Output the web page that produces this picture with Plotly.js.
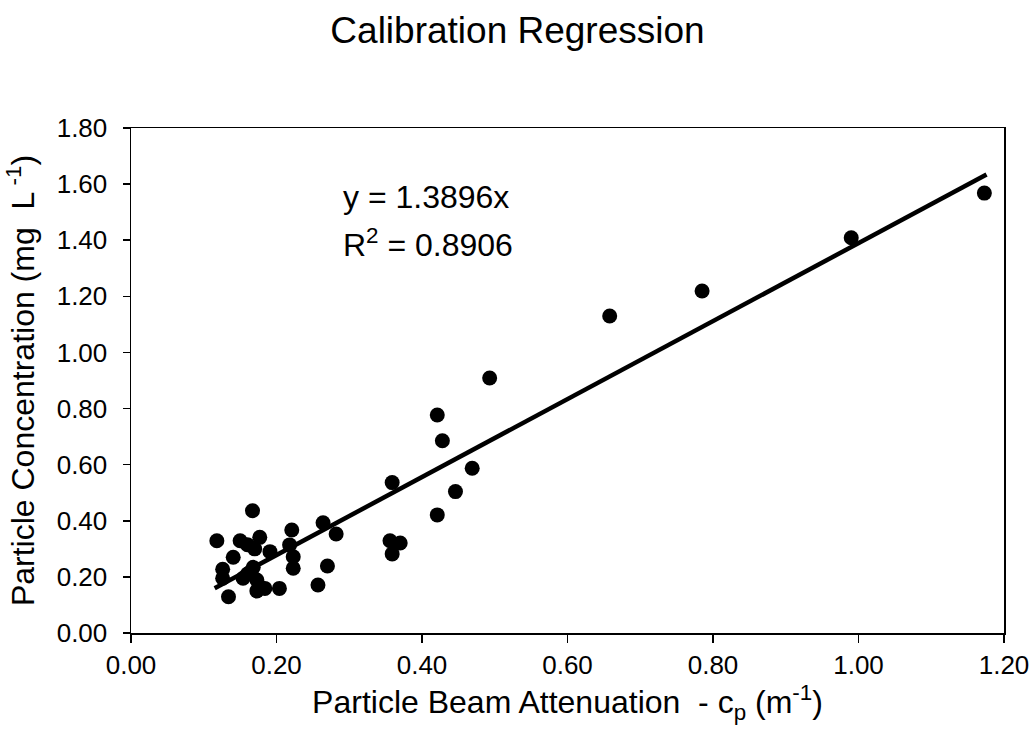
<!DOCTYPE html>
<html>
<head>
<meta charset="utf-8">
<script src="https://cdn.plot.ly/plotly-3.0.1.min.js"></script>
<style>html,body{margin:0;padding:0;background:#fff;}#chart{width:1035px;height:740px;}</style>
</head>
<body>
<div id="chart"></div>
<script>
// Observed data (particle beam attenuation c_p, particle concentration mg/L)
const attenuation = [0.118, 0.126, 0.126, 0.134, 0.1405, 0.150, 0.154, 0.160, 0.167, 0.168,
  0.170, 0.173, 0.173, 0.177, 0.177, 0.184, 0.191, 0.204, 0.218, 0.221,
  0.223, 0.223, 0.257, 0.264, 0.270, 0.282, 0.356, 0.359, 0.359, 0.370,
  0.421, 0.421, 0.428, 0.446, 0.469, 0.493, 0.658, 0.785, 0.990, 1.173,
  0.160, 0.165];
const concentration = [0.329, 0.227, 0.195, 0.129, 0.270, 0.329, 0.195, 0.210, 0.436, 0.234,
  0.300, 0.189, 0.150, 0.341, 0.165, 0.159, 0.290, 0.159, 0.314, 0.367,
  0.272, 0.231, 0.171, 0.393, 0.239, 0.353, 0.329, 0.536, 0.282, 0.321,
  0.421, 0.777, 0.685, 0.504, 0.587, 0.909, 1.130, 1.219, 1.409, 1.568,
  0.315, 0.220];
// Regression (through origin)
const slope = 1.3896;
const rSquared = 0.8906;
const fitX = [0.115, 1.176];
const fitY = fitX.map(v => slope * v);
const xTicks = [0, 0.2, 0.4, 0.6, 0.8, 1.0, 1.2];
const yTicks = [0, 0.2, 0.4, 0.6, 0.8, 1.0, 1.2, 1.4, 1.6, 1.8];

const font = 'Liberation Sans, Arial, sans-serif';

const traces = [
  {x: fitX, y: fitY, mode: 'lines', line: {color: '#000', width: 4.5}, hoverinfo: 'skip', cliponaxis: false},
  {x: attenuation, y: concentration, mode: 'markers', marker: {color: '#000', size: 15}, cliponaxis: false}
];

const layout = {
  width: 1035, height: 740,
  margin: {l: 131, r: 31, t: 128, b: 107},
  paper_bgcolor: '#fff', plot_bgcolor: '#fff',
  showlegend: false,
  font: {family: font, color: '#000'},
  title: {text: 'Calibration Regression', font: {family: font, size: 37, color: '#000'}, x: 0.5, xanchor: 'center', y: 0.96, yanchor: 'middle'},
  xaxis: {
    range: [0, 1.2], tickvals: xTicks, tickformat: '.2f',
    showgrid: false, zeroline: false,
    showline: true, linecolor: '#000', linewidth: 1.5, mirror: true,
    ticks: 'outside', ticklen: 8, tickcolor: '#000', tickwidth: 1.5,
    tickfont: {family: font, size: 26, color: '#000'},
    title: {text: 'Particle Beam Attenuation  - c<sub>p</sub> (m<sup>-1</sup>)', font: {family: font, size: 32, color: '#000'}, standoff: 12}
  },
  yaxis: {
    range: [0, 1.8], tickvals: yTicks, tickformat: '.2f',
    showgrid: false, zeroline: false,
    showline: true, linecolor: '#000', linewidth: 1.5, mirror: true,
    ticks: 'outside', ticklen: 7, tickcolor: '#000', tickwidth: 1.5,
    ticklabelstandoff: 10,
    tickfont: {family: font, size: 26, color: '#000'},
    title: {text: 'Particle Concentration (mg  L<sup> -1</sup>)', font: {family: font, size: 32, color: '#000'}, standoff: 12}
  },
  annotations: [
    {xref: 'x', yref: 'y', x: 0.288, y: 1.555, text: 'y = ' + slope.toFixed(4) + 'x', showarrow: false, xanchor: 'left', yanchor: 'middle', font: {family: font, size: 32, color: '#000'}},
    {xref: 'x', yref: 'y', x: 0.288, y: 1.39, text: 'R<sup>2</sup> = ' + rSquared.toFixed(4), showarrow: false, xanchor: 'left', yanchor: 'middle', font: {family: font, size: 32, color: '#000'}}
  ]
};

Plotly.newPlot('chart', traces, layout, {displayModeBar: false, staticPlot: true});
</script>
</body>
</html>
